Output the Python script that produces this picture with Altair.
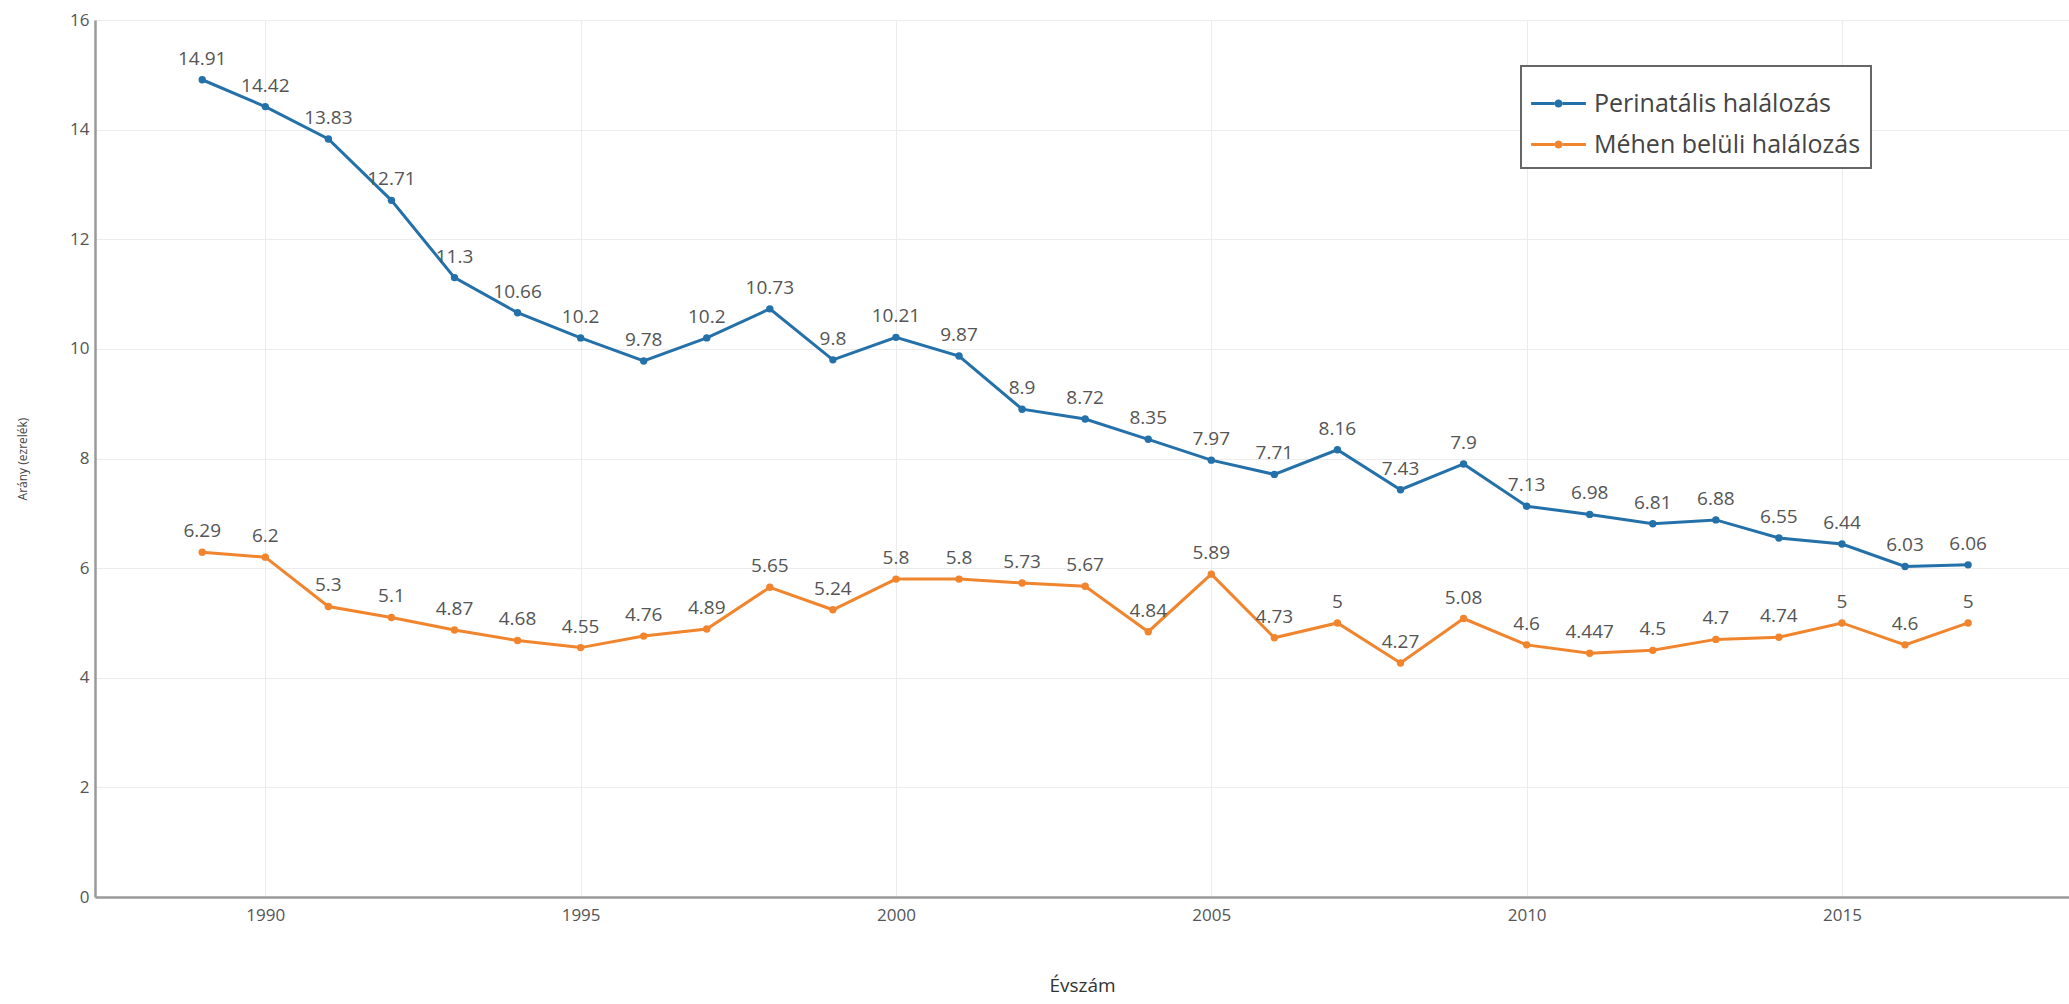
import altair as alt
import pandas as pd

# Yearly rates, 1989-2017
years = list(range(1989, 2018))
perinatal = [14.91, 14.42, 13.83, 12.71, 11.3, 10.66, 10.2, 9.78, 10.2, 10.73,
             9.8, 10.21, 9.87, 8.9, 8.72, 8.35, 7.97, 7.71, 8.16, 7.43,
             7.9, 7.13, 6.98, 6.81, 6.88, 6.55, 6.44, 6.03, 6.06]
intrauterine = [6.29, 6.2, 5.3, 5.1, 4.87, 4.68, 4.55, 4.76, 4.89, 5.65,
                5.24, 5.8, 5.8, 5.73, 5.67, 4.84, 5.89, 4.73, 5, 4.27,
                5.08, 4.6, 4.447, 4.5, 4.7, 4.74, 5, 4.6, 5]
series_names = ["Perinatális halálozás", "Méhen belüli halálozás"]
series_colors = ["#2471aa", "#f0852d"]
x_ticks = [1990, 1995, 2000, 2005, 2010, 2015]
y_ticks = [0, 2, 4, 6, 8, 10, 12, 14, 16]

rows = []
for name, values in zip(series_names, [perinatal, intrauterine]):
    for yr, v in zip(years, values):
        rows.append({"Évszám": yr, "Érték": v, "Sorozat": name, "Címke": f"{v:g}"})
df = pd.DataFrame(rows)

FONT = "Open Sans"

x = alt.X("Évszám:Q",
          scale=alt.Scale(domain=[1987.3, 2018.6], nice=False, zero=False),
          axis=alt.Axis(values=x_ticks, format="d", title="Évszám",
                        titleFontSize=19, titleColor="#333", titleFontWeight="normal",
                        titlePadding=53, labelPadding=10, ticks=False,
                        labelFontSize=17, labelColor="#555"))
y = alt.Y("Érték:Q",
          scale=alt.Scale(domain=[0, 16], nice=False),
          axis=alt.Axis(values=y_ticks, title="Arány (ezrelék)",
                        titleFontSize=12, titleColor="#444", titleFontWeight="normal",
                        titlePadding=40, labelPadding=6, ticks=False,
                        labelFontSize=17, labelColor="#555"))

# legend symbol: a short line with a dot in the middle
legend_symbol = ("M-1,-0.055H-0.15V0.055H-1Z M0.15,-0.055H1V0.055H0.15Z "
                 "M-0.15,0A0.15,0.15 0 1,1 0.15,0A0.15,0.15 0 1,1 -0.15,0Z")

color = alt.Color("Sorozat:N",
                  scale=alt.Scale(domain=series_names, range=series_colors),
                  sort=series_names,
                  legend=alt.Legend(title=None, orient="none", legendX=1426, legendY=46,
                                    symbolType=legend_symbol, symbolSize=3000,
                                    symbolStrokeWidth=0, symbolOpacity=1,
                                    labelFontSize=25, labelColor="#444", labelFont=FONT,
                                    labelLimit=0,
                                    strokeColor="#666", fillColor="white",
                                    padding=10, rowPadding=-16, labelOffset=8))

base = alt.Chart(df).encode(x=x, y=y, color=color)

lines = base.mark_line(strokeWidth=3)
points = base.mark_point(filled=True, size=55, opacity=1, shape="circle")
labels = base.mark_text(dy=-21, fontSize=19, font=FONT).encode(
    text="Címke:N", color=alt.value("#555"))

chart = alt.layer(lines, points, labels).properties(
    width=1974, height=877,
    autosize=alt.AutoSizeParams(type="none"),
    padding={"left": 95, "top": 20, "right": 0, "bottom": 107},
    background="white",
).configure_view(stroke=None).configure_axis(
    gridColor="#ececec", gridWidth=1, domainColor="#9a9a9a", domainWidth=2.5,
    labelFont=FONT, titleFont=FONT
).configure_legend(strokeWidth=2)

chart.save("out.html", embed_options={"renderer": "svg", "actions": False})
